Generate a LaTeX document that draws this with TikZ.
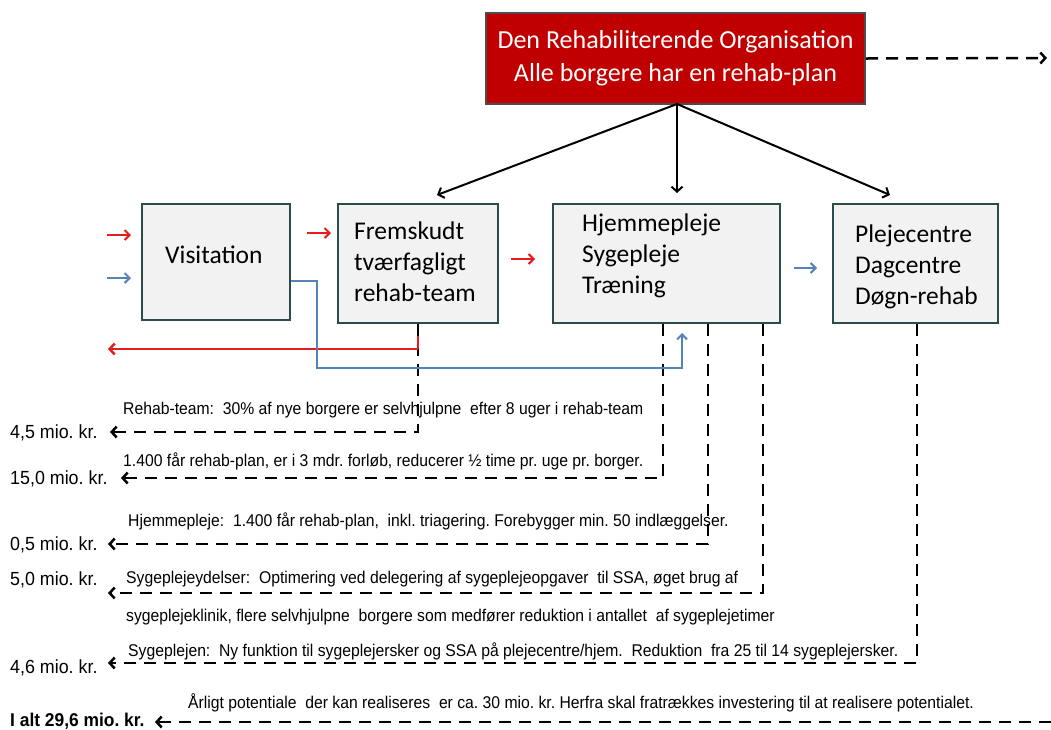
\documentclass[tikz,border=0pt]{standalone}
\usepackage{fontspec}
\setmainfont{Carlito}
\newfontfamily\narrowfont[FakeStretch=0.925]{Liberation Sans}
\newfontfamily\moneyfont[FakeStretch=0.94]{Liberation Sans}
\usetikzlibrary{arrows.meta}
\frenchspacing
\definecolor{topred}{RGB}{192,0,0}
\definecolor{boxline}{RGB}{45,75,75}
\definecolor{boxfill}{RGB}{242,242,242}
\definecolor{myred}{RGB}{228,30,30}
\definecolor{myblue}{RGB}{84,130,185}
\tikzset{
  box/.style={draw=boxline, line width=2pt, fill=boxfill, inner sep=0pt},
  tbox/.style={font=\fontsize{25.5}{31}\selectfont, align=left, anchor=west, inner sep=0pt},
  blk/.style={line width=2pt, -{Straight Barb[length=5pt,width=11pt,line width=2pt]}},
  cost/.style={line width=2.5pt, dash pattern=on 12pt off 8pt, -{Straight Barb[length=5pt,width=11pt,line width=2.5pt]}},
  smallred/.style={myred, line width=2pt, -{Straight Barb[length=5pt,width=10pt,line width=2pt]}},
  smallblue/.style={myblue, line width=2pt, -{Straight Barb[length=5pt,width=10pt,line width=2pt]}},
  note/.style={font=\narrowfont\fontsize{17}{19}\selectfont, anchor=west, inner sep=0pt},
  money/.style={font=\moneyfont\fontsize{19}{21}\selectfont, anchor=west, inner sep=0pt},
}
\begin{document}
\begin{tikzpicture}[x=1pt,y=-1pt]
\useasboundingbox (0,0) rectangle (1051,729);
% top box
\node[draw=black!70, line width=2pt, fill=topred, minimum width=379pt, minimum height=91pt, inner sep=0pt,
  text=white, font=\fontsize{26}{33}\selectfont, align=center] (top) at (675.5,58.5)
  {Den Rehabiliterende Organisation\\Alle borgere har en rehab-plan};
% boxes
\node[box, minimum width=148pt, minimum height=116pt] (vis) at (216,262) {};
\node[box, minimum width=160pt, minimum height=119pt] (frem) at (418,263.5) {};
\node[box, minimum width=227pt, minimum height=119pt] (hjem) at (666.5,263.5) {};
\node[box, minimum width=165pt, minimum height=119pt] (plej) at (915.5,263.5) {};
\node[tbox] (tvis) at (165,255) {Visitation};
\node[tbox] (tfrem) at (354,262) {Fremskudt\\tværfagligt\\rehab-team};
\node[tbox] (thjem) at (582,256) {Hjemmepleje\\Sygepleje\\Træning};
\node[tbox] (tplej) at (855,267) {Plejecentre\\Dagcentre\\Døgn-rehab};
% arrows from top
\coordinate (tb) at (677,104);
\coordinate (a1) at (437,195);
\coordinate (a2) at (677,193);
\coordinate (a3) at (890,195);
\draw[blk] (tb) -- (a1);
\draw[blk] (tb) -- (a2);
\draw[blk] (tb) -- (a3);
% small colored arrows
\coordinate (r1s) at (107,235); \coordinate (r1e) at (131,235);
\coordinate (r2s) at (307,233); \coordinate (r2e) at (331,233);
\coordinate (r3s) at (511,259); \coordinate (r3e) at (535,259);
\coordinate (b1s) at (107,278); \coordinate (b1e) at (131,278);
\coordinate (b2s) at (794,268); \coordinate (b2e) at (817,268);
\draw[smallred] (r1s) -- (r1e);
\draw[smallred] (r2s) -- (r2e);
\draw[smallred] (r3s) -- (r3e);
\draw[smallblue] (b1s) -- (b1e);
\draw[smallblue] (b2s) -- (b2e);
% dashed cost lines
\coordinate (c1) at (110,432);
\coordinate (c2) at (121,478);
\coordinate (c3) at (108,544);
\coordinate (c4) at (108,593);
\coordinate (c5) at (108,663);
\coordinate (c6) at (155,722);
\coordinate (c6s) at (1051,722);
\coordinate (tr) at (1047,58);
\draw[cost] (frem.south) |- (c1);
\draw[cost] (hjem.south -| 663,0) |- (c2);
\draw[cost] (hjem.south -| 708,0) |- (c3);
\draw[cost] (hjem.south -| 763,0) |- (c4);
\draw[cost] (plej.south -| 917,0) |- (c5);
\draw[cost] (c6s) -- (c6);
\draw[cost] (top.east) -- (tr);
% red return line
\coordinate (rl) at (108,349);
\draw[myred, line width=2.5pt] (418,336) -- (418,349);
\draw[myred, line width=2.5pt, -{Straight Barb[length=5pt,width=11pt,line width=2.5pt]}] (418,349) -- (rl);
% blue line
\coordinate (bl1) at (317,281);
\coordinate (bl2) at (317,368);
\coordinate (bl3) at (682,368);
\coordinate (bl4) at (682,333);
\draw[myblue, line width=2pt, -{Straight Barb[length=5pt,width=10pt,line width=2pt]}]
  (vis.east |- bl1) -- (bl1) -- (bl2) -- (bl3) -- (bl4);
% notes
\node[note] (n1) at (123,410) {Rehab-team:\ \ 30\% af nye borgere er selvhjulpne\ \ efter 8 uger i rehab-team};
\node[note] (n2) at (123,461) {1.400 får rehab-plan, er i 3 mdr. forløb, reducerer ½ time pr. uge pr. borger.};
\node[note] (n3) at (128,521) {Hjemmepleje:\ \ 1.400 får rehab-plan,\ \ inkl. triagering. Forebygger min. 50 indlæggelser.};
\node[note] (n4) at (126,579) {Sygeplejeydelser:\ \ Optimering ved delegering af sygeplejeopgaver\ \ til SSA, øget brug af};
\node[note] (n5) at (126,617) {sygeplejeklinik, flere selvhjulpne\ \ borgere som medfører reduktion i antallet\ \ af sygeplejetimer};
\node[note] (n6) at (128,651) {Sygeplejen:\ \ Ny funktion til sygeplejersker og SSA på plejecentre/hjem.\ \ Reduktion\ \ fra 25 til 14 sygeplejersker.};
\node[note] (n7) at (188,703) {Årligt potentiale\ \ der kan realiseres\ \ er ca. 30 mio. kr. Herfra skal fratrækkes investering til at realisere potentialet.};
% money
\node[money] (m1) at (10,433) {4,5 mio. kr.};
\node[money] (m2) at (10,479) {15,0 mio. kr.};
\node[money] (m3) at (10,545) {0,5 mio. kr.};
\node[money] (m4) at (10,580) {5,0 mio. kr.};
\node[money] (m5) at (10,668) {4,6 mio. kr.};
\node[money, font=\moneyfont\bfseries\fontsize{18.5}{21}\selectfont] (m6) at (10,721) {I alt 29,6 mio. kr.};
\end{tikzpicture}
\end{document}
